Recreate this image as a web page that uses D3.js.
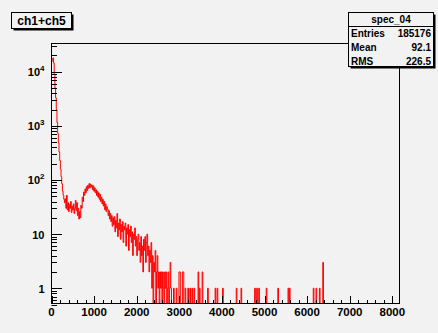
<!DOCTYPE html>
<html><head><meta charset="utf-8">
<script src="https://cdn.jsdelivr.net/npm/d3@7"></script>
<style>
html,body{margin:0;padding:0;background:#f2f2f2;}
svg{display:block;}
text{font-family:"Liberation Sans",Arial,Helvetica,sans-serif;font-weight:bold;fill:#000;}
</style></head><body>
<svg id="c" width="438" height="333"></svg>
<script>
// Spectrum: 512 bins of width 16 over 0..8192
const binWidth = 16;
const xMin = 0, xMax = 8192;

// Counts of the first 176 bins (0..2816)
const lowCounts = [
  15500, 17500, 18000, 14500, 9000, 5000, 3300, 2000, 1150, 730, 480, 330, 230, 160, 115, 85, 62, 52, 44, 38,
  45, 30, 52, 28, 38, 26, 35, 30, 40, 25, 33, 28, 36, 24, 30, 42, 27, 38, 22, 30, 19, 26,
  20, 34, 30, 48, 40, 60, 52, 68, 58, 75, 64, 80, 70, 86, 72, 84, 74, 80, 66, 78,
  62, 72, 58, 66, 52, 62, 48, 58, 44, 54, 40, 48, 36, 44, 33, 40, 28, 36, 26, 32,
  29, 22, 27, 19, 24, 17, 22, 14, 20, 15, 21, 11, 18, 13, 24, 9, 16, 12, 19, 8,
  15, 11, 17, 7, 14, 12, 16, 6, 13, 10, 15, 5, 12, 9, 14, 7, 11, 4, 10, 8,
  13, 6, 9, 4, 8, 10, 5, 7, 3, 9, 4, 6, 2, 8, 5, 9, 3, 7, 10, 4,
  6, 2, 5, 3, 7, 1, 4, 0, 3, 2, 5, 0, 2, 4, 1, 2, 0, 2, 1, 2,
  0, 2, 1, 0, 2, 1, 2, 0, 1, 2, 0, 1, 3, 1
];

// Sparse high-energy tail: channel positions and their counts
const tailX = [2864, 2928, 3000, 3016, 3072, 3088, 3136, 3200, 3248, 3296, 3344, 3440, 3472, 3536, 3664,
               3840, 3888, 4016, 4336, 4448, 4768, 4816, 4864, 5040, 5312, 5552, 5584, 6144, 6208, 6288, 6368];
const tailCounts = [1, 1, 2, 2, 2, 2, 1, 1, 1, 1, 1, 2, 1, 2, 1,
                    1, 1, 1, 1, 1, 1, 1, 1, 1, 1, 1, 1, 1, 1, 1, 3];

const xTickValues = [0, 1000, 2000, 3000, 4000, 5000, 6000, 7000, 8000];
const yDecadeExps = [0, 1, 2, 3, 4];

const histTitle = "ch1+ch5";
const statName = "spec_04";
const statLabels = ["Entries", "Mean", "RMS"];
const statValues = ["185176", "92.1", "226.5"];

const svg = d3.select("#c");
const W = 438, H = 333;
const fx0 = 51.5, fx1 = 400.5, fy0 = 43.5, fy1 = 304.5;

svg.append("rect").attr("width", W).attr("height", H).attr("fill", "#f2f2f2");

const x = d3.scaleLinear().domain([xMin, xMax]).range([fx0, fx1]);
const y = d3.scaleLog().domain([0.5, 33300]).range([fy1, fy0]);

// assemble full bin array
const nBins = (xMax - xMin) / binWidth;
const counts = new Array(nBins).fill(0);
lowCounts.forEach((c, i) => { counts[i] = c; });
tailX.forEach((xv, k) => { counts[Math.floor(xv / binWidth)] = tailCounts[k]; });

svg.append("clipPath").attr("id", "fr").append("rect")
  .attr("x", fx0).attr("y", fy0).attr("width", fx1 - fx0).attr("height", fy1 - fy0 - 0.5);

// step outline of the histogram
let d = "";
counts.forEach((c, i) => {
  const xl = x(i * binWidth), xr = x((i + 1) * binWidth);
  const yv = c > 0 ? y(c) : fy1 + 3;
  d += (i === 0 ? `M${xl},${yv}` : `V${yv}`) + `H${xr}`;
});
svg.append("path").attr("d", d).attr("clip-path", "url(#fr)")
  .attr("fill", "none").attr("stroke", "#ff0000").attr("stroke-width", 1);

// frame
svg.append("rect").attr("x", fx0).attr("y", fy0).attr("width", fx1 - fx0 - 1).attr("height", fy1 - fy0 - 1)
  .attr("fill", "none").attr("stroke", "#000").attr("stroke-width", 1);

const axisY = fy1 - 0.5, axisX = fx0;
// x ticks
const xt = svg.append("g");
d3.range(0, 8192, 200).forEach(v => {
  const major = v % 1000 === 0;
  const px = Math.round(x(v)) + 0.5;
  xt.append("line").attr("x1", px).attr("x2", px).attr("y1", axisY).attr("y2", axisY - (major ? 8 : 4))
    .attr("stroke", "#000");
});
svg.append("g").selectAll("text").data(xTickValues).join("text")
  .attr("x", v => x(v)).attr("y", 316).attr("text-anchor", "middle")
  .attr("font-size", 11.5).text(v => v);

// y ticks: decades and sub-decades
const yt = svg.append("g");
[-1, 0, 1, 2, 3, 4].forEach(e => {
  for (let m = 1; m <= 9; m++) {
    const v = m * Math.pow(10, e);
    if (v < 0.5 || v > 33300) continue;
    const py = Math.round(y(v)) + 0.5;
    yt.append("line").attr("x1", axisX).attr("x2", axisX + (m === 1 ? 10.5 : 5.5))
      .attr("y1", py).attr("y2", py).attr("stroke", "#000");
  }
});
const yl = svg.append("g");
yDecadeExps.forEach(e => {
  const t = yl.append("text").attr("x", 44.5).attr("y", y(Math.pow(10, e)) + 4.5)
    .attr("text-anchor", "end").attr("font-size", 11);
  if (e === 0) t.text("1");
  else if (e === 1) t.text("10");
  else {
    t.append("tspan").text("10");
    t.append("tspan").attr("dy", -5).attr("font-size", 8).text(e);
  }
});

// title box with shadow
function pave(x0, y0, w, h) {
  svg.append("rect").attr("x", x0 + 2).attr("y", y0 + 2).attr("width", w).attr("height", h).attr("fill", "#000");
  svg.append("rect").attr("x", x0).attr("y", y0).attr("width", w).attr("height", h)
    .attr("fill", "#f2f2f2").attr("stroke", "#000").attr("stroke-width", 1);
}
pave(11.5, 12.5, 60, 16);
svg.append("text").attr("x", 41.5).attr("y", 25).attr("text-anchor", "middle")
  .attr("font-size", 12).text(histTitle);

// statistics box
pave(348.5, 12.5, 85, 54);
svg.append("line").attr("x1", 348.5).attr("x2", 433.5).attr("y1", 26.5).attr("y2", 26.5).attr("stroke", "#000");
svg.append("text").attr("x", 391).attr("y", 23).attr("text-anchor", "middle").attr("font-size", 10).text(statName);
const rowY = [37, 51, 64.5];
statLabels.forEach((lab, i) => {
  svg.append("text").attr("x", 351).attr("y", rowY[i]).attr("font-size", 10).text(lab);
  svg.append("text").attr("x", 431).attr("y", rowY[i]).attr("text-anchor", "end").attr("font-size", 10).text(statValues[i]);
});
</script>
</body></html>
